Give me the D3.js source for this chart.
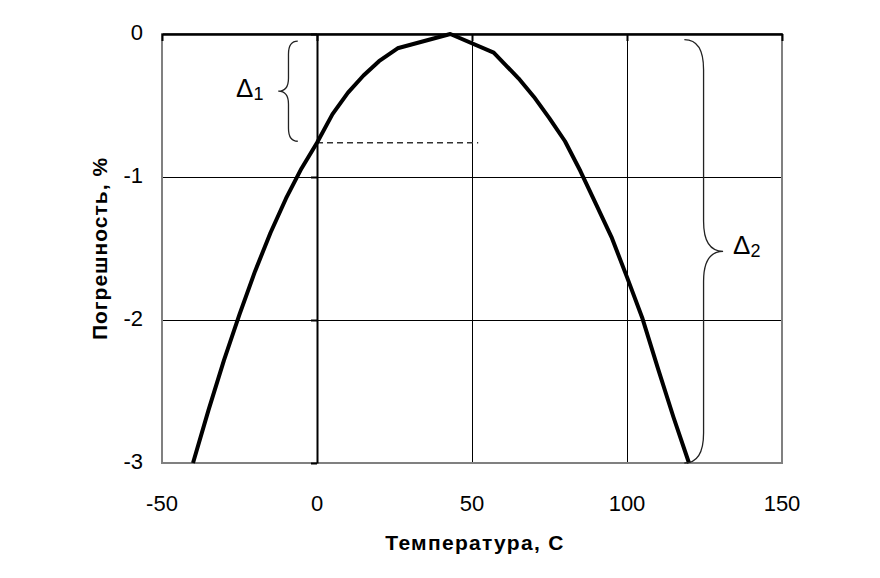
<!DOCTYPE html>
<html>
<head>
<meta charset="utf-8">
<script src="https://cdn.jsdelivr.net/npm/d3@7"></script>
<style>
  body { margin: 0; background: #fff; }
  text { font-family: "Liberation Sans", Arial, sans-serif; fill: #000; }
</style>
</head>
<body>
<svg id="chart" width="880" height="578"></svg>
<script>
// temperature (C) and error (%)
const temps = [-40, -35, -30, -25, -20, -15, -10, -5, 0, 5, 10, 15, 20, 26, 43, 57, 65, 70, 75, 80, 85, 90, 95, 100, 105, 110, 115, 120];
const errors = [-3.0, -2.63, -2.28, -1.96, -1.66, -1.39, -1.15, -0.94, -0.76, -0.56, -0.41, -0.29, -0.19, -0.10, 0, -0.13, -0.31, -0.44, -0.59, -0.75, -0.96, -1.19, -1.42, -1.70, -1.99, -2.34, -2.68, -3.0];
const xTicks = [-50, 0, 50, 100, 150];
const yTicks = [0, -1, -2, -3];

const svg = d3.select('#chart');
const x = d3.scaleLinear().domain([-50, 150]).range([162, 782]);
const y = d3.scaleLinear().domain([-3, 0]).range([463, 34]);

const g = svg.append('g');

// grid lines
g.selectAll('.vgrid')
  .data([50, 100])
  .enter().append('line')
  .attr('x1', d => x(d) + 0.5).attr('x2', d => x(d) + 0.5)
  .attr('y1', y(0)).attr('y2', y(-3))
  .attr('stroke', '#000').attr('stroke-width', 1)
  .attr('shape-rendering', 'crispEdges');

g.selectAll('.hgrid')
  .data([-1, -2])
  .enter().append('line')
  .attr('x1', x(-50)).attr('x2', x(150))
  .attr('y1', d => y(d) + 0.5).attr('y2', d => y(d) + 0.5)
  .attr('stroke', '#000').attr('stroke-width', 1)
  .attr('shape-rendering', 'crispEdges');

// plot frame (grey)
g.append('rect')
  .attr('x', x(-50)).attr('y', y(0))
  .attr('width', x(150) - x(-50)).attr('height', y(-3) - y(0))
  .attr('fill', 'none').attr('stroke', '#808080').attr('stroke-width', 2);

// value axis at x = 0, ticks outward (left), no labels here
const yAxis = g.append('g')
  .attr('transform', `translate(${x(0)},0)`)
  .call(d3.axisLeft(y).tickValues(yTicks).tickSize(6).tickSizeOuter(0).tickFormat(''));
yAxis.select('.domain').attr('stroke', '#000').attr('stroke-width', 2);
yAxis.selectAll('.tick line').attr('stroke', '#000').attr('stroke-width', 2);

// category axis at y = 0 (top), ticks downward
const xAxis = g.append('g')
  .attr('transform', `translate(0,${y(0)})`)
  .call(d3.axisBottom(x).tickValues(xTicks).tickSize(7).tickSizeOuter(0).tickFormat(''));
xAxis.select('.domain').attr('stroke', '#000').attr('stroke-width', 2.5);
xAxis.selectAll('.tick line').attr('stroke', '#000').attr('stroke-width', 2);

// tick labels
g.selectAll('.ylab')
  .data(yTicks)
  .enter().append('text')
  .attr('x', 143)
  .attr('y', d => y(d) + 6)
  .attr('text-anchor', 'end')
  .attr('font-size', 22)
  .text(d => d);

g.selectAll('.xlab')
  .data(xTicks)
  .enter().append('text')
  .attr('x', d => x(d))
  .attr('y', 511)
  .attr('text-anchor', 'middle')
  .attr('font-size', 22)
  .text(d => d);

// axis titles
svg.append('text')
  .attr('x', 475).attr('y', 550)
  .attr('text-anchor', 'middle')
  .attr('font-size', 21).attr('font-weight', 'bold')
  .attr('letter-spacing', 1.3)
  .text('Температура, С');

svg.append('text')
  .attr('transform', `translate(107,${(y(0) + y(-3)) / 2}) rotate(-90)`)
  .attr('text-anchor', 'middle')
  .attr('font-size', 21).attr('font-weight', 'bold')
  .attr('letter-spacing', 1)
  .text('Погрешность, %');

// dashed level at T = 0
g.append('line')
  .attr('x1', x(0)).attr('x2', x(52))
  .attr('y1', y(errors[temps.indexOf(0)])).attr('y2', y(errors[temps.indexOf(0)]))
  .attr('stroke', '#333').attr('stroke-width', 1.5)
  .attr('stroke-dasharray', '6,4');

// curve
const line = d3.line().x((d, i) => x(temps[i])).y(d => y(d));
g.append('path')
  .datum(errors)
  .attr('d', line)
  .attr('fill', 'none')
  .attr('stroke', '#000')
  .attr('stroke-width', 4)
  .attr('stroke-linejoin', 'round');

// curly braces
function brace(tipX, spineX, pointX, y1, y2, r) {
  const ym = (y1 + y2) / 2;
  return `M${tipX},${y1} Q${spineX},${y1} ${spineX},${y1 + r}` +
    ` L${spineX},${ym - r} Q${spineX},${ym} ${pointX},${ym}` +
    ` Q${spineX},${ym} ${spineX},${ym + r}` +
    ` L${spineX},${y2 - r} Q${spineX},${y2} ${tipX},${y2}`;
}

g.append('path')
  .attr('d', brace(x(-6.2), x(-9.2), x(-12.5), y(-0.05), y(-0.75), 13))
  .attr('fill', 'none').attr('stroke', '#222').attr('stroke-width', 1.3);

g.append('path')
  .attr('d', brace(x(118.5), x(124.7), x(131), y(-0.04), y(-3.0), 30))
  .attr('fill', 'none').attr('stroke', '#222').attr('stroke-width', 1.3);

// delta labels
function deltaLabel(px, py, sub) {
  const t = svg.append('text').attr('x', px).attr('y', py).attr('font-size', 26);
  t.append('tspan').text('Δ');
  t.append('tspan').attr('font-size', 18).attr('dy', 3).text(sub);
}
deltaLabel(236, 97, '1');
deltaLabel(733, 254, '2');
</script>
</body>
</html>
